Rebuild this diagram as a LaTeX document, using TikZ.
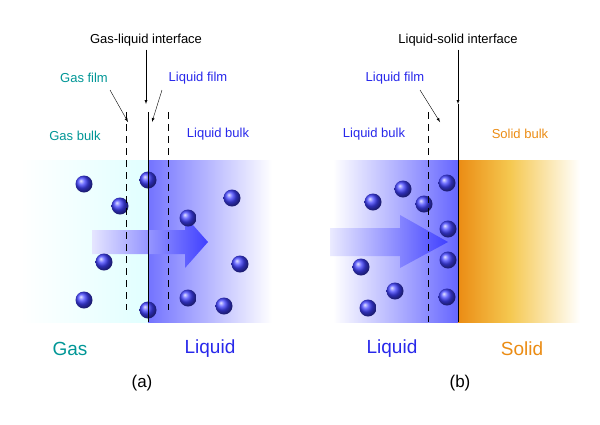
\documentclass[tikz,border=0pt]{standalone}
\usepackage{fontspec}
\setmainfont{Liberation Sans}
\definecolor{gasteal}{RGB}{0,150,150}
\definecolor{liqblue}{RGB}{40,40,235}
\definecolor{solorange}{RGB}{235,140,20}
\definecolor{solyellow}{RGB}{245,200,80}
\tikzset{
  ball/.style={circle, inner sep=0pt, minimum size=17pt, ball color=blue!75},
  film/.style={dashed, dash pattern=on 7pt off 5pt, thin},
  iface/.style={thick},
  point/.style={-latex, thin},
  small/.style={font=\fontsize{13}{15}\selectfont},
  big/.style={font=\fontsize{19}{22}\selectfont},
  tag/.style={font=\fontsize{17}{20}\selectfont}
}
\begin{document}
\begin{tikzpicture}[x=1pt, y=-1pt]
\useasboundingbox (0,0) rectangle (600,424);
% panel (a)
\shade[left color=white, right color=cyan!12] (20,160) rectangle (148,322);
\shade[left color=blue!55, right color=white] (148,160) rectangle (272,322);
\shade[left color=blue!10, right color=blue!75] (92,230) -- (185,230) -- (185,216) -- (208,242) -- (185,268) -- (185,254) -- (92,254) -- cycle;
\foreach \x/\y in {84/184, 120/206, 148/180, 104/262, 84/300, 148/310, 188/218, 232/198, 240/264, 188/298, 224/306}
  \node[ball] at (\x,\y) {};
\coordinate (gi) at (148,112);
\coordinate (gib) at (148,322);
\draw[iface] (gi) -- (gib);
\draw[film] (126,112) -- (126,310);
\draw[film] (168,112) -- (168,310);
\node[small] (gli) at (146,40) {Gas-liquid interface};
\draw[point] (gli.south) -- (146,104);
\node[small, text=gasteal] (gfilm) at (84,78) {Gas film};
\draw[point] (110,90) -- (128,122);
\node[small, text=liqblue] (lfilm) at (198,78) {Liquid film};
\draw[point] (162,90) -- (152,122);
\node[small, text=gasteal] (gbulk) at (75,136) {Gas bulk};
\node[small, text=liqblue] (lbulk) at (218,134) {Liquid bulk};
\node[big, text=gasteal] (gas) at (70,349) {Gas};
\node[big, text=liqblue] (liq) at (210,349) {Liquid};
\node[tag] (a) at (142,383) {(a)};
% panel (b)
\shade[left color=white, right color=blue!60] (333,160) rectangle (458,322);
\shade[left color=solorange, right color=solyellow] (458,160) rectangle (510,322);
\shade[left color=solyellow, right color=white] (510,160) rectangle (580,322);
\shade[left color=blue!8, right color=blue!75] (330,228) -- (400,228) -- (400,215) -- (448,242) -- (400,268) -- (400,256) -- (330,256) -- cycle;
\foreach \x/\y in {373/202, 403/189, 424/204, 447/183, 448/229, 448/260, 447/297, 361/267, 395/291, 368/308}
  \node[ball] at (\x,\y) {};
\node[small] (lsi) at (458,40) {Liquid-solid interface};
\draw[iface] (458,104) -- (458,322);
\draw[point] (lsi.south) -- (458,104);
\draw[film] (428,112) -- (428,322);
\node[small, text=liqblue] (lfilmb) at (395,78) {Liquid film};
\draw[point] (420,90) -- (440,122);
\node[small, text=liqblue] (lbulkb) at (374,134) {Liquid bulk};
\node[small, text=solorange] (sbulk) at (520,134) {Solid bulk};
\node[big, text=liqblue] (liqb) at (392,349) {Liquid};
\node[big, text=solorange] (sol) at (522,349) {Solid};
\node[tag] (b) at (460,383) {(b)};
\end{tikzpicture}
\end{document}
